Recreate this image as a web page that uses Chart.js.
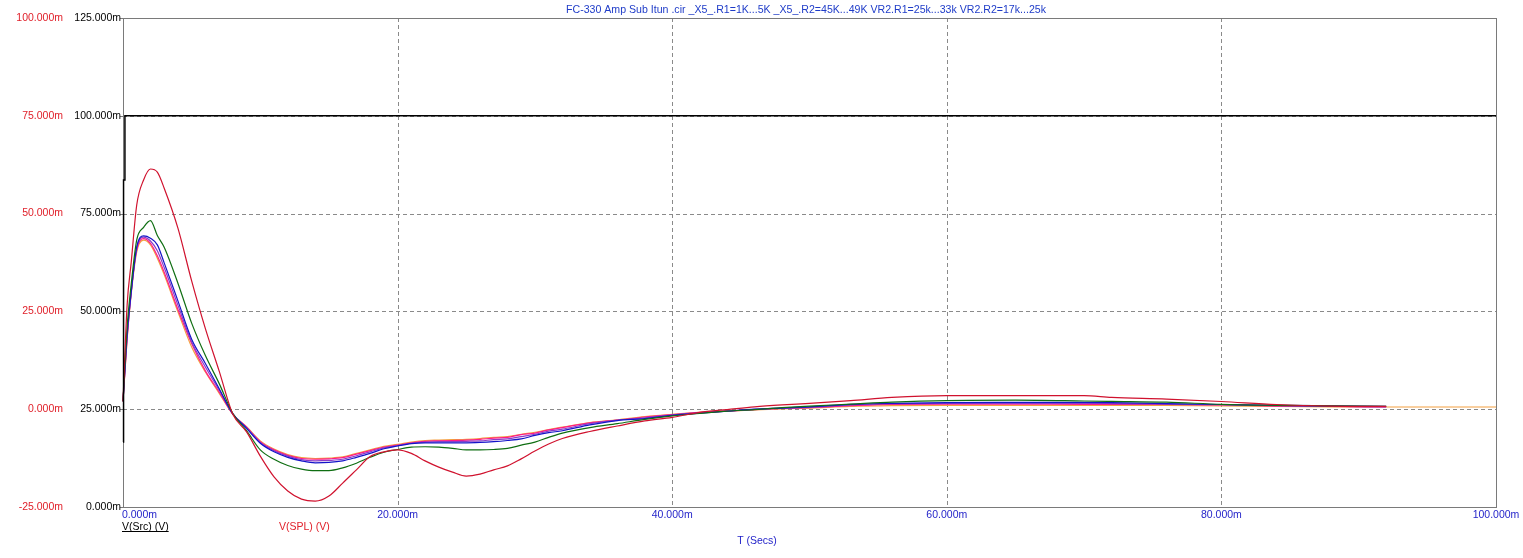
<!DOCTYPE html>
<html><head><meta charset="utf-8">
<script src="https://cdn.jsdelivr.net/npm/chart.js@4.4.1/dist/chart.umd.min.js"></script>
<style>html,body{margin:0;padding:0;background:#fff;overflow:hidden}#wrap{width:1523px;height:558px;position:relative}</style>
</head><body><div id="wrap"><canvas id="c" width="1523" height="558"></canvas></div>
<script>
// ---- data (values in milli-units) ----
const titleText = 'FC-330 Amp Sub Itun .cir _X5_.R1=1K...5K _X5_.R2=45K...49K VR2.R1=25k...33k VR2.R2=17k...25k';
const timeMs = [0,0.3,0.6,1,1.5,2,2.5,3,4,5,6,7,8,9,10,11,12,13,14,15,16,17,18,19,20,21,22,23,24,25,26,27,28,29,30,31,32,34,36,38,40,42,44,46,48,50,53,56,60,65,70,72,76,80,84,88,92,96,100];
const srcTime = [0, 0.04, 0.13, 0.14, 100];
const srcValues = [16.6, 83.6, 83.6, 100, 100];
const splRed = [2,26.6,37.6,52.2,58.6,61.4,60.6,56.5,46.3,32.8,20.6,9.8,-1.3,-5.8,-12.0,-17.3,-20.9,-23.0,-23.5,-22.2,-18.9,-15.5,-12.1,-10.9,-10.4,-11.3,-13.2,-14.8,-16.1,-17.1,-16.6,-15.5,-14.5,-12.7,-10.7,-8.9,-7.5,-5.7,-4.3,-3.0,-2.1,-0.8,-0.1,0.6,1.1,1.5,2.2,3.0,3.45,3.45,3.45,3.0,2.6,1.97,1.2,0.8,0.7,null,null];
const splGreen = [2,21,32,43.3,46.5,48.2,44.4,41.4,32.2,22.0,13.7,6.6,-1.1,-5.5,-10.4,-12.8,-14.4,-15.3,-15.7,-15.7,-15.0,-13.8,-12.3,-11.0,-10.3,-9.7,-9.6,-9.7,-10.0,-10.4,-10.4,-10.3,-10.0,-9.2,-8.4,-7.2,-6.1,-4.7,-3.7,-2.6,-1.7,-1.1,-0.5,-0.1,0.4,0.8,1.3,1.8,2.2,2.3,2.1,2.0,1.8,1.25,1.0,0.85,0.7,null,null];
const splBlue = [2,19,30,41.5,44.3,43.7,42.0,37.4,27.7,17.9,11.7,5.3,-1.2,-4.9,-8.7,-10.9,-12.3,-13.2,-13.7,-13.6,-13.2,-12.3,-11.3,-10.1,-9.4,-8.8,-8.6,-8.6,-8.6,-8.6,-8.5,-8.3,-8.0,-7.6,-6.7,-6.0,-5.5,-4.0,-2.9,-2.4,-1.6,-1.0,-0.5,0.0,0.3,0.6,1.25,1.5,1.7,1.75,1.75,1.7,1.4,1.2,1.0,0.85,0.7,null,null];
const splPurple = [2,18.5,30,41.1,44.0,43.0,40.5,36.2,26.6,17.2,10.8,4.9,-1.2,-4.7,-8.5,-10.6,-12.0,-12.9,-13.2,-13.1,-12.8,-11.9,-10.9,-9.9,-9.3,-8.7,-8.4,-8.3,-8.3,-8.2,-8.1,-7.8,-7.6,-7.0,-6.4,-5.6,-5.1,-3.7,-2.8,-2.2,-1.5,-0.9,-0.5,-0.05,0.25,0.5,1.1,1.4,1.5,1.5,1.5,1.45,1.3,1.15,0.9,0.75,0.6,null,null];
const splPink = [2,18,30,40.7,43.6,42.4,39.2,35.0,25.5,16.8,9.8,4.4,-1.3,-4.6,-8.3,-10.4,-11.8,-12.6,-12.8,-12.7,-12.4,-11.5,-10.6,-9.7,-9.2,-8.6,-8.2,-8.1,-8.0,-7.9,-7.7,-7.4,-7.2,-6.5,-6.1,-5.3,-4.7,-3.5,-2.8,-2.0,-1.4,-0.8,-0.5,-0.1,0.2,0.4,0.9,1.25,1.3,1.3,1.25,1.25,1.25,1.1,0.8,0.7,0.56,null,null];
const splOrange = [2,18,29.5,40.2,43.2,42.0,38.6,34.4,24.9,15.9,9.5,4.1,-1.3,-4.5,-8.1,-10.2,-11.6,-12.4,-12.6,-12.5,-12.2,-11.3,-10.4,-9.5,-9.0,-8.4,-8.0,-7.9,-7.8,-7.7,-7.5,-7.2,-7.0,-6.4,-5.9,-5.2,-4.6,-3.4,-2.7,-1.9,-1.3,-0.8,-0.5,-0.15,0.1,0.3,0.7,0.9,1.0,1.0,1.0,1.0,0.95,0.85,0.7,0.6,0.56,0.56,0.56];
const xTicks = [0,20,40,60,80,100];
const xTickLabels = ['0.000m','20.000m','40.000m','60.000m','80.000m','100.000m'];
const srcTicks = [0,25,50,75,100,125];
const srcTickLabels = ['0.000m','25.000m','50.000m','75.000m','100.000m','125.000m'];
const splTicks = [-25,0,25,50,75,100];
const splTickLabels = ['-25.000m','0.000m','25.000m','50.000m','75.000m','100.000m'];

const pts = (xs, ys) => xs.map((x, i) => ({x, y: ys[i]}));
const FONT = '"Liberation Sans", Arial, sans-serif';

const decor = {
  id: 'decor',
  beforeDatasetsDraw(chart) {
    const {ctx, chartArea: a, scales} = chart;
    ctx.save();
    ctx.strokeStyle = '#8a8a8a';
    ctx.lineWidth = 1;
    ctx.setLineDash([4, 3]);
    xTicks.forEach(v => {
      if (v === 0 || v === 100) return;
      const x = Math.round(scales.x.getPixelForValue(v)) + 0.5;
      ctx.beginPath(); ctx.moveTo(x, a.top); ctx.lineTo(x, a.bottom); ctx.stroke();
    });
    srcTicks.forEach(v => {
      if (v === 0 || v === 125) return;
      const y = Math.round(scales.y.getPixelForValue(v)) + 0.5;
      ctx.beginPath(); ctx.moveTo(a.left, y); ctx.lineTo(a.right, y); ctx.stroke();
    });
    ctx.setLineDash([]);
    ctx.strokeStyle = '#7a7a7a';
    ctx.strokeRect(Math.round(a.left) + 0.5, Math.round(a.top) + 0.5, Math.round(a.right - a.left), Math.round(a.bottom - a.top));
    srcTicks.forEach(v => {
      const y = Math.round(scales.y.getPixelForValue(v)) + 0.5;
      ctx.beginPath(); ctx.moveTo(a.left - 3, y); ctx.lineTo(a.left, y); ctx.stroke();
    });
    ctx.restore();
  },
  afterDraw(chart) {
    const {ctx, chartArea: a, scales} = chart;
    ctx.save();
    ctx.font = '10.5px ' + FONT;
    ctx.textBaseline = 'middle';
    ctx.fillStyle = '#000';
    ctx.textAlign = 'right';
    srcTicks.forEach((v, i) => ctx.fillText(srcTickLabels[i], a.left - 2, scales.y.getPixelForValue(v)));
    ctx.fillStyle = '#e0202a';
    splTicks.forEach((v, i) => ctx.fillText(splTickLabels[i], 63, scales.y2.getPixelForValue(v)));
    ctx.fillStyle = '#1f1fc8';
    xTicks.forEach((v, i) => {
      const x = scales.x.getPixelForValue(v);
      ctx.textAlign = i === 0 ? 'left' : 'center';
      ctx.fillText(xTickLabels[i], i === 0 ? x - 1 : x, a.bottom + 8);
    });
    ctx.textAlign = 'center';
    ctx.fillText('T (Secs)', 757, 541);
    ctx.textAlign = 'left';
    ctx.fillStyle = '#000';
    ctx.fillText('V(Src) (V)', 122, 527);
    const w = ctx.measureText('V(Src) (V)').width;
    ctx.fillRect(122, 531, w, 1);
    ctx.fillStyle = '#e0202a';
    ctx.fillText('V(SPL) (V)', 279, 527);
    ctx.fillStyle = '#1f3cc8';
    ctx.textAlign = 'center';
    ctx.font = '10.6px ' + FONT;
    ctx.fillText(titleText, 806, 10);
    ctx.restore();
  }
};

const lineDs = (label, data, color, axis, width) => ({
  label, data, borderColor: color, backgroundColor: color, borderWidth: width,
  pointRadius: 0, yAxisID: axis, cubicInterpolationMode: 'monotone', spanGaps: false,
  clip: 3
});

new Chart(document.getElementById('c'), {
  type: 'line',
  data: {
    datasets: [
      Object.assign(lineDs('V(Src)', pts(srcTime, srcValues), '#000000', 'y', 1.5), {cubicInterpolationMode: 'default', tension: 0}),
      lineDs('V(SPL) 1', pts(timeMs, splRed), '#d0122e', 'y2', 1.2),
      lineDs('V(SPL) 2', pts(timeMs, splGreen), '#0f6e12', 'y2', 1.2),
      lineDs('V(SPL) 3', pts(timeMs, splBlue), '#1414c8', 'y2', 1.2),
      lineDs('V(SPL) 4', pts(timeMs, splPurple), '#8a3cc8', 'y2', 1.2),
      lineDs('V(SPL) 5', pts(timeMs, splPink), '#ff1a8a', 'y2', 1.2),
      lineDs('V(SPL) 6', pts(timeMs, splOrange), '#f4a040', 'y2', 1.2)
    ]
  },
  options: {
    responsive: false, animation: false, devicePixelRatio: 1,
    layout: {padding: {left: 123, right: 27, top: 18, bottom: 51}},
    plugins: {legend: {display: false}, tooltip: {enabled: false}, title: {display: false}},
    scales: {
      x: {type: 'linear', min: 0, max: 100, display: false},
      y: {type: 'linear', min: 0, max: 125, display: false, position: 'left'},
      y2: {type: 'linear', min: -25, max: 100, display: false, position: 'left'}
    }
  },
  plugins: [decor]
});
</script>
</body></html>
